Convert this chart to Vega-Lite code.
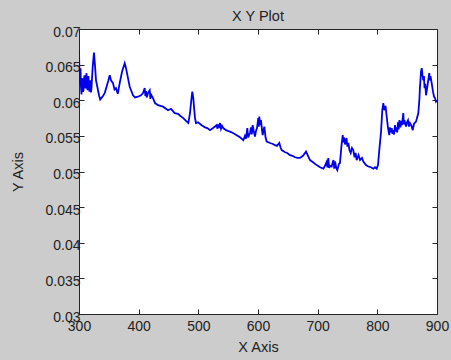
{
  "$schema": "https://vega.github.io/schema/vega-lite/v6.json",
  "width": 358,
  "height": 285,
  "autosize": {"type": "none"},
  "padding": {"left": 79, "top": 29, "right": 14, "bottom": 46},
  "background": "#cccccc",
  "title": {"text": "X Y Plot", "fontSize": 14.5, "font": "Liberation Sans", "fontWeight": "normal", "color": "#222222", "offset": 9, "dy": 8},
  "config": {
    "view": {"stroke": "#262626", "strokeWidth": 1, "fill": "#ffffff"},
    "axis": {"grid": false, "domain": false, "labelFlush": false, "tickColor": "#262626", "tickSize": -5, "labelFont": "Liberation Sans", "labelFontSize": 14, "labelColor": "#222222", "titleFont": "Liberation Sans", "titleFontSize": 14.5, "titleFontWeight": "normal", "titleColor": "#222222"}
  },
  "data": {"values": [
    {"x":300,"y":0.0671},{"x":300.8,"y":0.0635},{"x":301.6,"y":0.0622},{"x":302.5,"y":0.0645},{"x":303.3,"y":0.0618},{"x":304.2,"y":0.0608},{"x":305.0,"y":0.0626},{"x":305.9,"y":0.0631},{"x":306.7,"y":0.0612},{"x":307.5,"y":0.0614},{"x":308.4,"y":0.0629},{"x":309.2,"y":0.0635},{"x":310.0,"y":0.0619},{"x":310.9,"y":0.0617},{"x":311.7,"y":0.063},{"x":312.6,"y":0.0638},{"x":313.4,"y":0.0621},{"x":314.2,"y":0.0614},{"x":315.0,"y":0.0627},{"x":315.9,"y":0.0634},{"x":316.7,"y":0.0618},{"x":317.6,"y":0.0612},{"x":318.4,"y":0.0624},{"x":319.3,"y":0.0628},{"x":320.1,"y":0.0611},{"x":320.9,"y":0.0617},{"x":322.6,"y":0.0642},{"x":323.8,"y":0.0655},{"x":325.1,"y":0.0667},{"x":326.8,"y":0.0649},{"x":328.5,"y":0.0628},{"x":330.7,"y":0.0619},{"x":333.5,"y":0.0607},{"x":335.5,"y":0.0601},{"x":337.4,"y":0.0603},{"x":340.2,"y":0.0606},{"x":343.1,"y":0.061},{"x":346.9,"y":0.0621},{"x":349.0,"y":0.0627},{"x":351.5,"y":0.0635},{"x":353.6,"y":0.0628},{"x":357.0,"y":0.0624},{"x":359.5,"y":0.0615},{"x":362.0,"y":0.0617},{"x":365.0,"y":0.0609},{"x":368.2,"y":0.0624},{"x":372.1,"y":0.064},{"x":376.6,"y":0.0652},{"x":378.8,"y":0.0645},{"x":382.1,"y":0.0631},{"x":385.0,"y":0.0619},{"x":390.5,"y":0.0607},{"x":394.0,"y":0.0604},{"x":398.9,"y":0.0605},{"x":403.9,"y":0.0607},{"x":407.3,"y":0.061},{"x":410.1,"y":0.0617},{"x":411.2,"y":0.0606},{"x":412.3,"y":0.0613},{"x":413.5,"y":0.0604},{"x":415.6,"y":0.061},{"x":418.5,"y":0.0614},{"x":419.6,"y":0.0602},{"x":420.7,"y":0.0608},{"x":424.0,"y":0.0603},{"x":427.4,"y":0.0596},{"x":432.4,"y":0.0593},{"x":440.8,"y":0.0591},{"x":449.2,"y":0.0586},{"x":454.2,"y":0.0588},{"x":460.4,"y":0.0582},{"x":465.9,"y":0.0581},{"x":470.0,"y":0.0578},{"x":474.8,"y":0.0575},{"x":479.3,"y":0.0571},{"x":483.2,"y":0.0568},{"x":486.0,"y":0.0582},{"x":488.2,"y":0.06},{"x":489.9,"y":0.0612},{"x":491.6,"y":0.0603},{"x":492.7,"y":0.0591},{"x":494.4,"y":0.0575},{"x":496.1,"y":0.0568},{"x":499.4,"y":0.0569},{"x":505.6,"y":0.0565},{"x":511.2,"y":0.0562},{"x":515.0,"y":0.0561},{"x":519.6,"y":0.0558},{"x":524.6,"y":0.0561},{"x":530.8,"y":0.0565},{"x":532.0,"y":0.056},{"x":533.0,"y":0.0566},{"x":534.5,"y":0.0561},{"x":536.3,"y":0.0568},{"x":538.0,"y":0.056},{"x":539.7,"y":0.0564},{"x":541.8,"y":0.0561},{"x":546.3,"y":0.0558},{"x":549.5,"y":0.0557},{"x":553.1,"y":0.0556},{"x":558.1,"y":0.0554},{"x":564.3,"y":0.0551},{"x":569.8,"y":0.0548},{"x":575.4,"y":0.0544},{"x":578.2,"y":0.055},{"x":580.0,"y":0.0546},{"x":582.1,"y":0.0561},{"x":583.5,"y":0.0548},{"x":584.9,"y":0.0551},{"x":586.6,"y":0.0554},{"x":588.3,"y":0.0562},{"x":589.6,"y":0.0552},{"x":591.1,"y":0.0565},{"x":593.3,"y":0.0555},{"x":595.0,"y":0.0549},{"x":596.6,"y":0.0557},{"x":598.3,"y":0.0561},{"x":600.5,"y":0.0575},{"x":601.4,"y":0.0563},{"x":602.2,"y":0.0577},{"x":603.9,"y":0.0565},{"x":605.0,"y":0.0572},{"x":606.7,"y":0.0558},{"x":607.9,"y":0.0551},{"x":609.2,"y":0.0558},{"x":610.6,"y":0.0563},{"x":612.6,"y":0.0548},{"x":614.6,"y":0.0542},{"x":620.1,"y":0.054},{"x":624.0,"y":0.0539},{"x":628.5,"y":0.0537},{"x":631.8,"y":0.0536},{"x":635.7,"y":0.054},{"x":637.7,"y":0.0534},{"x":639.7,"y":0.053},{"x":645.3,"y":0.0527},{"x":649.0,"y":0.0526},{"x":653.6,"y":0.0523},{"x":658.0,"y":0.0522},{"x":662.0,"y":0.052},{"x":666.0,"y":0.0519},{"x":670.4,"y":0.0519},{"x":675.4,"y":0.0522},{"x":680.5,"y":0.0528},{"x":683.8,"y":0.0522},{"x":687.2,"y":0.0516},{"x":692.2,"y":0.0513},{"x":698.4,"y":0.0509},{"x":703.9,"y":0.0506},{"x":709.5,"y":0.0504},{"x":712.3,"y":0.0508},{"x":714.8,"y":0.0513},{"x":716.3,"y":0.0506},{"x":717.8,"y":0.0519},{"x":719.2,"y":0.0505},{"x":720.7,"y":0.0508},{"x":723.5,"y":0.0507},{"x":725.0,"y":0.0512},{"x":726.5,"y":0.0516},{"x":727.8,"y":0.0504},{"x":729.1,"y":0.0514},{"x":731.2,"y":0.0505},{"x":732.9,"y":0.0502},{"x":735.8,"y":0.0511},{"x":737.4,"y":0.0512},{"x":740.0,"y":0.0537},{"x":742.0,"y":0.0551},{"x":743.0,"y":0.0541},{"x":744.1,"y":0.0548},{"x":745.8,"y":0.0538},{"x":748.3,"y":0.0547},{"x":749.8,"y":0.0535},{"x":751.3,"y":0.054},{"x":753.4,"y":0.053},{"x":755.4,"y":0.0526},{"x":757.5,"y":0.0533},{"x":759.7,"y":0.053},{"x":761.8,"y":0.052},{"x":763.6,"y":0.0526},{"x":765.4,"y":0.0516},{"x":768.5,"y":0.0523},{"x":771.0,"y":0.0516},{"x":774.3,"y":0.0519},{"x":776.5,"y":0.0514},{"x":781.0,"y":0.0509},{"x":784.9,"y":0.0507},{"x":789.4,"y":0.0506},{"x":793.3,"y":0.0504},{"x":796.1,"y":0.0506},{"x":798.9,"y":0.0504},{"x":801.1,"y":0.0509},{"x":803.3,"y":0.053},{"x":806.2,"y":0.0556},{"x":808.3,"y":0.0586},{"x":810.0,"y":0.0596},{"x":811.7,"y":0.0586},{"x":813.7,"y":0.0592},{"x":815.7,"y":0.0577},{"x":817.9,"y":0.0561},{"x":820.1,"y":0.0551},{"x":821.1,"y":0.0562},{"x":822.1,"y":0.0555},{"x":824.1,"y":0.0561},{"x":825.2,"y":0.0553},{"x":826.3,"y":0.0558},{"x":828.0,"y":0.0552},{"x":829.6,"y":0.0565},{"x":830.8,"y":0.0556},{"x":832.1,"y":0.0562},{"x":833.3,"y":0.0555},{"x":834.6,"y":0.0569},{"x":835.7,"y":0.0559},{"x":836.8,"y":0.0572},{"x":838.8,"y":0.0562},{"x":840.0,"y":0.0571},{"x":841.3,"y":0.0565},{"x":843.5,"y":0.0582},{"x":844.5,"y":0.0566},{"x":845.5,"y":0.0572},{"x":848.0,"y":0.0563},{"x":849.7,"y":0.0569},{"x":851.4,"y":0.0572},{"x":853.0,"y":0.0563},{"x":854.7,"y":0.0568},{"x":857.3,"y":0.0564},{"x":859.3,"y":0.0558},{"x":861.5,"y":0.0567},{"x":864.8,"y":0.057},{"x":868.7,"y":0.0582},{"x":870.4,"y":0.06},{"x":871.5,"y":0.0619},{"x":873.2,"y":0.064},{"x":874.4,"y":0.0645},{"x":875.7,"y":0.0635},{"x":877.1,"y":0.0628},{"x":878.1,"y":0.0634},{"x":879.1,"y":0.0617},{"x":880.3,"y":0.0623},{"x":881.6,"y":0.0607},{"x":884.1,"y":0.0621},{"x":887.1,"y":0.0638},{"x":888.1,"y":0.0628},{"x":889.1,"y":0.0634},{"x":891.1,"y":0.0624},{"x":893.3,"y":0.0612},{"x":895.0,"y":0.0605},{"x":896.7,"y":0.0603},{"x":898.4,"y":0.0598},{"x":900.0,"y":0.06}
  ]},
  "layer": [
    {
      "mark": {"type": "line", "color": "#0000ee", "strokeWidth": 1.8, "clip": true},
      "encoding": {
        "x": {"field": "x", "type": "quantitative", "scale": {"domain": [300, 900], "nice": false, "zero": false}, "axis": {"orient": "bottom", "title": "X Axis", "values": [300, 400, 500, 600, 700, 800, 900], "labelPadding": 10, "titlePadding": 7}},
        "y": {"field": "y", "type": "quantitative", "scale": {"domain": [0.03, 0.07], "nice": false, "zero": false}, "axis": {"orient": "left", "title": "Y Axis", "values": [0.03, 0.035, 0.04, 0.045, 0.05, 0.055, 0.06, 0.065, 0.07], "format": ".3~f", "labelPadding": 4, "labelOffset": 3, "titlePadding": 19}}
      }
    },
    {
      "mark": {"type": "line", "opacity": 0},
      "encoding": {
        "x": {"field": "x", "type": "quantitative", "axis": {"orient": "top", "title": null, "labels": false, "values": [300, 400, 500, 600, 700, 800, 900]}},
        "y": {"field": "y", "type": "quantitative", "axis": {"orient": "right", "title": null, "labels": false, "values": [0.03, 0.035, 0.04, 0.045, 0.05, 0.055, 0.06, 0.065, 0.07]}}
      }
    }
  ],
  "resolve": {"axis": {"x": "independent", "y": "independent"}}
}
